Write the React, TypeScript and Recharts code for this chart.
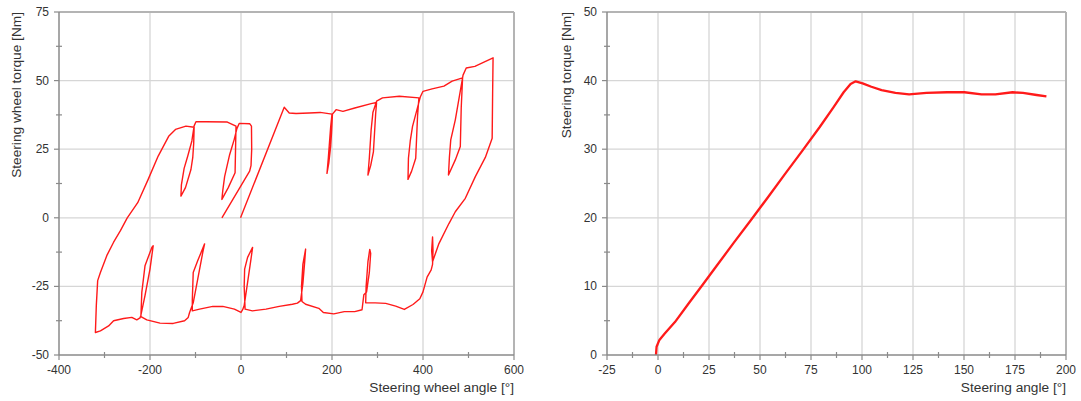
import React from 'react';
import { Line, LineChart, ReferenceLine, XAxis, YAxis } from 'recharts';

// left panel: steering wheel hysteresis loop (angle in deg, torque in Nm), in drawing order
const wheelAngle = [
  -1, 95, 106, 121, 150, 174, 200,
  197, 192, 189, 193, 197, 199, 201,
  209, 224, 250, 286, 298,
  296, 291, 285, 279, 282, 286, 290, 298,
  311, 348, 391,
  388, 384, 375, 367, 368, 372, 377, 394,
  400, 420, 446, 464, 487,
  484, 482, 471, 456, 458, 461, 471, 488,
  495, 514, 554, 553, 552,
  537, 515, 493, 471, 457, 435, 421,
  419, 421, 422, 421, 418,
  409, 400, 393, 378, 359, 340, 318, 295, 274,
  275, 279, 283, 285, 282, 276,
  270, 266, 250, 227, 204, 181, 171, 142,
  134, 133, 136, 142, 140, 136, 131,
  124, 113, 84, 55, 25, 9,
  7, 8, 14.5, 25.5, 22, 14.5, 7, 3.6,
  0, -14.5, -40, -62, -91, -107,
  -107, -105, -95, -80, -84, -95, -105, -113,
  -116, -124, -149, -178, -207, -220,
  -218, -211, -196, -193, -200, -211, -220,
  -222, -229, -240, -258, -280, -291, -309, -320, -318, -315,
  -309, -295, -280, -265, -250, -227, -204, -182, -159, -144, -121, -103,
  -104, -106, -110, -122, -132, -131, -125, -117, -108, -103,
  -99, -76, -30, -11,
  -12, -13, -28, -42, -40, -36, -25, -15, -9,
  -4, 19, 23, 23.5, 22, 19, -42,
];
const wheelTorque = [
  0, 40.3, 38.2, 38, 38.2, 38.4, 37.8,
  33, 22, 16.2, 20, 26, 31, 37.8,
  39.4, 38.8, 40, 41.6, 42,
  38, 24, 19, 15.6, 21.7, 32, 38.5, 42.5,
  43.7, 44.3, 43.7,
  37, 21.7, 17, 14, 21.7, 28, 33.3, 44,
  46.1, 47, 48, 49.8, 51,
  40, 26, 21.1, 15.6, 22, 28.4, 35.7, 52,
  54.6, 55.2, 58.3, 45, 29,
  22, 15, 7.1, 2.2, -2.1, -9.4, -16,
  -12, -7, -12, -17, -19,
  -21.6, -27, -29.5, -31.6, -33.4, -32.2, -31.2, -31, -31,
  -25, -16, -11.5, -13, -20, -27,
  -28, -33.5, -34.2, -34.2, -35, -34.5, -33, -31.5,
  -30.5, -25, -17, -11.4, -16, -24, -30.2,
  -31.1, -31.5, -32.3, -33.3, -33.9, -33.3,
  -25, -18.7, -14.4, -10.8, -15, -23.5, -32, -33.5,
  -34.5, -33.3, -32.3, -32.3, -33.3, -33.9,
  -30, -19.9, -15.6, -9.5, -12.6, -22.3, -31, -34.5,
  -36.3, -37.5, -38.5, -38.4, -37.2, -36,
  -27.2, -17.5, -10.8, -10.2, -18.7, -28.4, -35.5,
  -36.5, -37.2, -36.3, -36.7, -37.5, -39.4, -41.2, -41.8, -32, -22.9,
  -19.9, -13.8, -8.9, -4.7, 0, 5.5, 14, 22.5, 29.7, 32.2, 33.4, 33,
  27, 22, 17.6, 11, 7.9, 12, 18, 22.5, 28, 33.5,
  35, 35, 34.9, 33.4,
  25, 16.4, 11, 6.7, 10, 15, 23, 28.5, 32.5,
  34.4, 34.3, 33.4, 25, 19, 17, 0,
];

// right panel: steering angle vs steering torque
const steerAngle = [
  -1, -0.7, 0.7, 3.2, 8.3, 15, 21.8, 28.5, 37, 45.4, 53.9, 62.3, 70.8, 79.2, 86, 91, 94.4, 96.9,
  100.3, 104.6, 109.6, 116.4, 123.1, 131.6, 141.7, 150.2, 158.6, 165.4, 173.8, 178.9, 185.6, 190.4,
];
const steerTorque = [
  0, 1.2, 2.2, 3.1, 4.8, 7.5, 10.2, 12.9, 16.3, 19.6, 23, 26.4, 29.8, 33.2, 36.1, 38.3, 39.5, 39.9,
  39.6, 39.1, 38.6, 38.2, 38, 38.2, 38.3, 38.3, 38, 38, 38.3, 38.2, 37.9, 37.7,
];

const wheelXMajor = [-400, -200, 0, 200, 400, 600];
const wheelXMinor = [-300, -100, 100, 300, 500];
const wheelYMajor = [-50, -25, 0, 25, 50, 75];
const wheelYMinor = [-37.5, -12.5, 12.5, 37.5, 62.5];

const steerXMajor = [-25, 0, 25, 50, 75, 100, 125, 150, 175, 200];
const steerXMinor = [-12.5, 12.5, 37.5, 62.5, 87.5, 112.5, 137.5, 162.5, 187.5];
const steerYMajor = [0, 10, 20, 30, 40, 50];
const steerYMinor = [5, 15, 25, 35, 45];

const FONT = '"Liberation Sans", Arial, sans-serif';
const TEXT = '#333';
const AXIS = '#8a8a8a';
const GRID = '#d6d6d6';
const BORDER = '#b4b4b4';

const sortTicks = (a: number[], b: number[]) => [...a, ...b].sort((p, q) => p - q);

function makeXTick(majors: number[]) {
  return (props: any) => {
    const { x, y, payload } = props;
    const major = majors.includes(payload.value);
    return (
      <g>
        <line x1={x} x2={x} y1={major ? y : y - 3} y2={y + (major ? 5 : 3)} stroke={AXIS} strokeWidth={1.2} />
        {major && (
          <text x={x} y={y + 19} textAnchor="middle" fontSize={12} fontFamily={FONT} fill={TEXT}>
            {payload.value}
          </text>
        )}
      </g>
    );
  };
}

function makeYTick(majors: number[]) {
  return (props: any) => {
    const { x, y, payload } = props;
    const major = majors.includes(payload.value);
    return (
      <g>
        <line x1={x - (major ? 5 : 3)} x2={major ? x : x + 3} y1={y} y2={y} stroke={AXIS} strokeWidth={1.2} />
        {major && (
          <text x={x - 10} y={y + 4} textAnchor="end" fontSize={12} fontFamily={FONT} fill={TEXT}>
            {payload.value}
          </text>
        )}
      </g>
    );
  };
}

interface PanelProps {
  data: { x: number; y: number }[];
  xMajor: number[];
  xMinor: number[];
  yMajor: number[];
  yMinor: number[];
  width: number;
  yAxisWidth: number;
  rightMargin: number;
  xTitle: string;
  yTitle: string;
  yTitleX: number;
  lineWidth: number;
}

function Panel(p: PanelProps) {
  const xDomain = [p.xMajor[0], p.xMajor[p.xMajor.length - 1]];
  const yDomain = [p.yMajor[0], p.yMajor[p.yMajor.length - 1]];
  const plotRight = p.width - p.rightMargin;
  return (
    <LineChart width={p.width} height={401} data={p.data} margin={{ top: 12, right: p.rightMargin, bottom: 0, left: 0 }}>
      <XAxis
        dataKey="x"
        type="number"
        domain={xDomain}
        ticks={sortTicks(p.xMajor, p.xMinor)}
        interval={0}
        tickSize={0}
        tickMargin={0}
        tickLine={false}
        height={46}
        axisLine={{ stroke: AXIS, strokeWidth: 1.5 }}
        tick={makeXTick(p.xMajor)}
        allowDataOverflow
        label={{
          content: () => (
            <text x={plotRight} y={392} textAnchor="end" fontSize={13.7} fontFamily={FONT} fill={TEXT}>
              {p.xTitle}
            </text>
          ),
        }}
      />
      <YAxis
        dataKey="y"
        type="number"
        domain={yDomain}
        ticks={sortTicks(p.yMajor, p.yMinor)}
        interval={0}
        tickSize={0}
        tickMargin={0}
        tickLine={false}
        width={p.yAxisWidth}
        axisLine={{ stroke: AXIS, strokeWidth: 1.5 }}
        tick={makeYTick(p.yMajor)}
        allowDataOverflow
        label={{
          content: () => (
            <text
              x={p.yTitleX}
              y={12}
              transform={`rotate(-90 ${p.yTitleX} 12)`}
              textAnchor="end"
              fontSize={13.7}
              fontFamily={FONT}
              fill={TEXT}
            >
              {p.yTitle}
            </text>
          ),
        }}
      />
      {p.xMajor.slice(1, -1).map((v) => (
        <ReferenceLine key={'gx' + v} x={v} stroke={GRID} strokeWidth={1.3} />
      ))}
      {p.yMajor.slice(1, -1).map((v) => (
        <ReferenceLine key={'gy' + v} y={v} stroke={GRID} strokeWidth={1.3} />
      ))}
      <ReferenceLine x={xDomain[1]} stroke={BORDER} strokeWidth={2} />
      <ReferenceLine y={yDomain[1]} stroke={BORDER} strokeWidth={2} />
      <Line
        type="linear"
        dataKey="y"
        stroke="#ff1a1a"
        strokeWidth={p.lineWidth}
        dot={false}
        activeDot={false}
        isAnimationActive={false}
        strokeLinejoin="round"
      />
    </LineChart>
  );
}

export default function App() {
  const wheelData = wheelAngle.map((x, i) => ({ x, y: wheelTorque[i] }));
  const steerData = steerAngle.map((x, i) => ({ x, y: steerTorque[i] }));
  return (
    <div style={{ position: 'absolute', left: 0, top: 0, width: 1081, height: 401, background: '#fff' }}>
      <div style={{ position: 'absolute', left: 0, top: 0 }}>
        <Panel
          data={wheelData}
          xMajor={wheelXMajor}
          xMinor={wheelXMinor}
          yMajor={wheelYMajor}
          yMinor={wheelYMinor}
          width={540}
          yAxisWidth={59}
          rightMargin={26}
          xTitle="Steering wheel angle [°]"
          yTitle="Steering wheel torque [Nm]"
          yTitleX={21}
          lineWidth={1.4}
        />
      </div>
      <div style={{ position: 'absolute', left: 540, top: 0 }}>
        <Panel
          data={steerData}
          xMajor={steerXMajor}
          xMinor={steerXMinor}
          yMajor={steerYMajor}
          yMinor={steerYMinor}
          width={541}
          yAxisWidth={67}
          rightMargin={15}
          xTitle="Steering angle [°]"
          yTitle="Steering torque [Nm]"
          yTitleX={31}
          lineWidth={2.3}
        />
      </div>
    </div>
  );
}
